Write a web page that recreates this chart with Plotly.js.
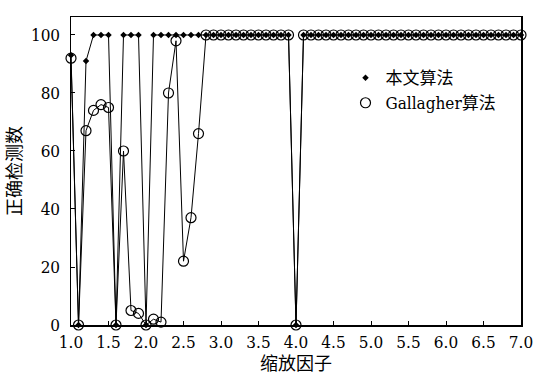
<!DOCTYPE html>
<html>
<head>
<meta charset="utf-8">
<script src="https://cdn.plot.ly/plotly-3.0.1.min.js"></script>
<style>html,body{margin:0;padding:0;background:#fff;}#chart{width:534px;height:378px;}</style>
</head>
<body>
<div id="chart"></div>
<script>
// Scale factor (缩放因子)
const scaleFactors = [
  1.0,1.1,1.2,1.3,1.4,1.5,1.6,1.7,1.8,1.9,
  2.0,2.1,2.2,2.3,2.4,2.5,2.6,2.7,2.8,2.9,
  3.0,3.1,3.2,3.3,3.4,3.5,3.6,3.7,3.8,3.9,
  4.0,4.1,4.2,4.3,4.4,4.5,4.6,4.7,4.8,4.9,
  5.0,5.1,5.2,5.3,5.4,5.5,5.6,5.7,5.8,5.9,
  6.0,6.1,6.2,6.3,6.4,6.5,6.6,6.7,6.8,6.9,
  7.0
];
// 本文算法
const ourMethod = [
  93,0,91,100,100,100,0,100,100,100,
  0,100,100,100,100,100,100,100,100,100,
  100,100,100,100,100,100,100,100,100,100,
  0,100,100,100,100,100,100,100,100,100,
  100,100,100,100,100,100,100,100,100,100,
  100,100,100,100,100,100,100,100,100,100,
  100
];
// Gallagher算法
const gallagher = [
  92,0,67,74,76,75,0,60,5,4,
  0,2,1,80,98,22,37,66,100,100,
  100,100,100,100,100,100,100,100,100,100,
  0,100,100,100,100,100,100,100,100,100,
  100,100,100,100,100,100,100,100,100,100,
  100,100,100,100,100,100,100,100,100,100,
  100
];
const seriesNames = ['本文算法', 'Gallagher算法'];
const xTitle = '缩放因子';
const yTitle = '正确检测数';

const FONT = 'DejaVu Serif Condensed, DejaVu Serif, Noto Sans CJK SC, serif';

const traces = [
  {x: scaleFactors, y: gallagher, mode: 'lines+markers', showlegend: false,
   line: {color: '#000', width: 1},
   marker: {symbol: 'circle-open', size: 10, color: '#000', line: {width: 1.2}},
   cliponaxis: false},
  {x: scaleFactors, y: ourMethod, mode: 'lines+markers', showlegend: false,
   line: {color: '#000', width: 1},
   marker: {symbol: 'diamond', size: 5, color: '#000'},
   cliponaxis: false},
  {x: [null], y: [null], mode: 'markers', name: seriesNames[0],
   marker: {symbol: 'diamond', size: 5, color: '#000'}},
  {x: [null], y: [null], mode: 'markers', name: seriesNames[1],
   marker: {symbol: 'circle-open', size: 10, color: '#000', line: {width: 1.2}}}
];

const layout = {
  width: 534, height: 378,
  margin: {l: 71, r: 13, t: 17, b: 53},
  paper_bgcolor: '#fff', plot_bgcolor: '#fff',
  font: {family: FONT, color: '#000', size: 18},
  showlegend: true,
  legend: {x: 0.61, y: 0.86, xanchor: 'left', yanchor: 'top',
           bgcolor: 'rgba(0,0,0,0)', font: {size: 17, family: FONT},
           tracegroupgap: 0, itemwidth: 30},
  xaxis: {
    range: [1, 7], dtick: 0.5, tick0: 1, tickformat: '.1f',
    ticks: 'inside', ticklen: 4, tickcolor: '#000',
    showline: true, linecolor: '#000', linewidth: 1.5, mirror: true,
    showgrid: false, zeroline: false, ticklabelstandoff: 1,
    tickfont: {size: 17, family: FONT},
    title: {text: xTitle, font: {size: 18, family: FONT}, standoff: 6}
  },
  yaxis: {
    range: [0, 106.2], dtick: 20, tick0: 0,
    ticks: 'inside', ticklen: 4, tickcolor: '#000',
    showline: true, linecolor: '#000', linewidth: 1.5, mirror: true,
    showgrid: false, zeroline: false, ticklabelstandoff: 6,
    tickfont: {size: 17, family: FONT},
    title: {text: yTitle, font: {size: 18, family: FONT}, standoff: 4}
  }
};

Plotly.newPlot('chart', traces, layout, {displayModeBar: false, staticPlot: true});
</script>
</body>
</html>
